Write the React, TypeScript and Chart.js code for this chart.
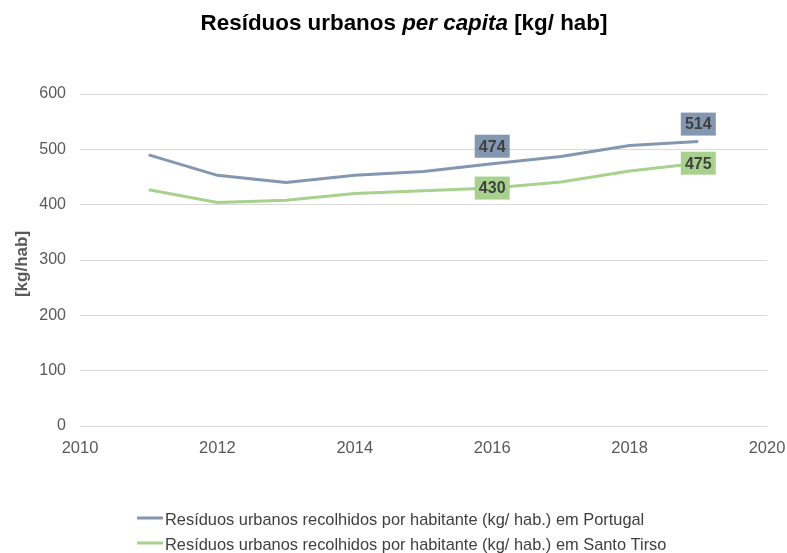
import React, { useEffect, useRef } from "react";
import { Chart, registerables } from "chart.js";

Chart.register(...registerables);

const years = [2011, 2012, 2013, 2014, 2015, 2016, 2017, 2018, 2019];
const portugal = [490, 453, 440, 453, 460, 474, 487, 507, 514];
const santoTirso = [427, 404, 408, 420, 425, 430, 441, 461, 475];
const labelledYears = [2016, 2019];
const seriesNames = [
  "Resíduos urbanos recolhidos por habitante (kg/ hab.) em Portugal",
  "Resíduos urbanos recolhidos por habitante (kg/ hab.) em Santo Tirso",
];
const colors = ["#8497B0", "#A9D18E"];
const xTicks = [2010, 2012, 2014, 2016, 2018, 2020];
const yTicks = [0, 100, 200, 300, 400, 500, 600];

const FONT = "'Liberation Sans', Arial, sans-serif";

const customPlugin = {
  id: "custom",
  afterDraw(chart: any) {
    const ctx = chart.ctx;
    ctx.save();
    // Title with mixed styles
    const parts = [
      { t: "Resíduos urbanos ", f: `bold 22.4px ${FONT}` },
      { t: "per capita", f: `italic bold 22.4px ${FONT}` },
      { t: " [kg/ hab]", f: `bold 22.4px ${FONT}` },
    ];
    let total = 0;
    parts.forEach((p) => {
      ctx.font = p.f;
      total += ctx.measureText(p.t).width;
    });
    let x = 404 - total / 2;
    ctx.fillStyle = "#000000";
    ctx.textBaseline = "alphabetic";
    ctx.textAlign = "left";
    parts.forEach((p) => {
      ctx.font = p.f;
      ctx.fillText(p.t, x, 30);
      x += ctx.measureText(p.t).width;
    });

    // Y axis title
    ctx.save();
    ctx.translate(22, 264);
    ctx.rotate(-Math.PI / 2);
    ctx.font = `bold 17px ${FONT}`;
    ctx.fillStyle = "#595959";
    ctx.textAlign = "center";
    ctx.textBaseline = "middle";
    ctx.fillText("[kg/hab]", 0, 0);
    ctx.restore();

    // Data labels
    ctx.font = `bold 16px ${FONT}`;
    ctx.textAlign = "center";
    ctx.textBaseline = "middle";
    chart.data.datasets.forEach((ds: any, di: number) => {
      const meta = chart.getDatasetMeta(di);
      ds.data.forEach((pt: any, i: number) => {
        if (!labelledYears.includes(pt.x)) return;
        const el = meta.data[i];
        const w = 35;
        const h = 23;
        const cy = di === 0 ? el.y - 6 - h / 2 : el.y;
        ctx.fillStyle = colors[di];
        ctx.fillRect(el.x - w / 2, cy - h / 2, w, h);
        ctx.fillStyle = "#404040";
        ctx.fillText(String(pt.y), el.x, cy + 1);
      });
    });

    // Legend
    ctx.font = `16.4px ${FONT}`;
    ctx.textAlign = "left";
    ctx.textBaseline = "middle";
    seriesNames.forEach((name, i) => {
      const y = 518 + i * 25;
      ctx.strokeStyle = colors[i];
      ctx.lineWidth = 3;
      ctx.beginPath();
      ctx.moveTo(137, y);
      ctx.lineTo(163, y);
      ctx.stroke();
      ctx.fillStyle = "#404040";
      ctx.fillText(name, 165, y + 2);
    });
    ctx.restore();
  },
};

export default function App() {
  const ref = useRef<HTMLCanvasElement>(null);
  useEffect(() => {
    document.body.style.margin = "0";
    const chart = new Chart(ref.current!, {
      type: "line",
      data: {
        datasets: [
          {
            label: seriesNames[0],
            data: years.map((y, i) => ({ x: y, y: portugal[i] })),
            borderColor: colors[0],
            borderWidth: 3,
            pointRadius: 0,
            tension: 0,
          },
          {
            label: seriesNames[1],
            data: years.map((y, i) => ({ x: y, y: santoTirso[i] })),
            borderColor: colors[1],
            borderWidth: 3,
            pointRadius: 0,
            tension: 0,
          },
        ],
      },
      plugins: [customPlugin],
      options: {
        animation: false,
        responsive: false,
        layout: { padding: { left: 0, right: 20, top: 94, bottom: 97 } },
        plugins: { legend: { display: false }, title: { display: false }, tooltip: { enabled: false } },
        scales: {
          x: {
            type: "linear",
            min: 2010,
            max: 2020,
            afterBuildTicks: (s: any) => {
              s.ticks = xTicks.map((v) => ({ value: v }));
            },
            afterFit: (s: any) => {
              s.height = 30;
              s.paddingLeft = 0;
              s.paddingRight = 0;
            },
            grid: { display: false, drawTicks: false },
            border: { display: false },
            ticks: {
              color: "#595959",
              font: { family: FONT, size: 16.5 },
              padding: 13,
              maxRotation: 0,
              callback: (v: any) => String(v),
            },
          },
          y: {
            min: 0,
            max: 600,
            afterBuildTicks: (s: any) => {
              s.ticks = yTicks.map((v) => ({ value: v }));
            },
            afterFit: (s: any) => {
              s.width = 80;
            },
            grid: { color: "#D9D9D9", drawTicks: false, lineWidth: 1 },
            border: { display: false },
            ticks: {
              color: "#595959",
              font: { family: FONT, size: 16 },
              padding: 14,
            },
          },
        },
      } as any,
    });
    return () => chart.destroy();
  }, []);
  return (
    <div style={{ position: "absolute", left: 0, top: 0, width: 787, height: 553 }}>
      <canvas ref={ref} width={787} height={553} style={{ width: 787, height: 553 }} />
    </div>
  );
}
